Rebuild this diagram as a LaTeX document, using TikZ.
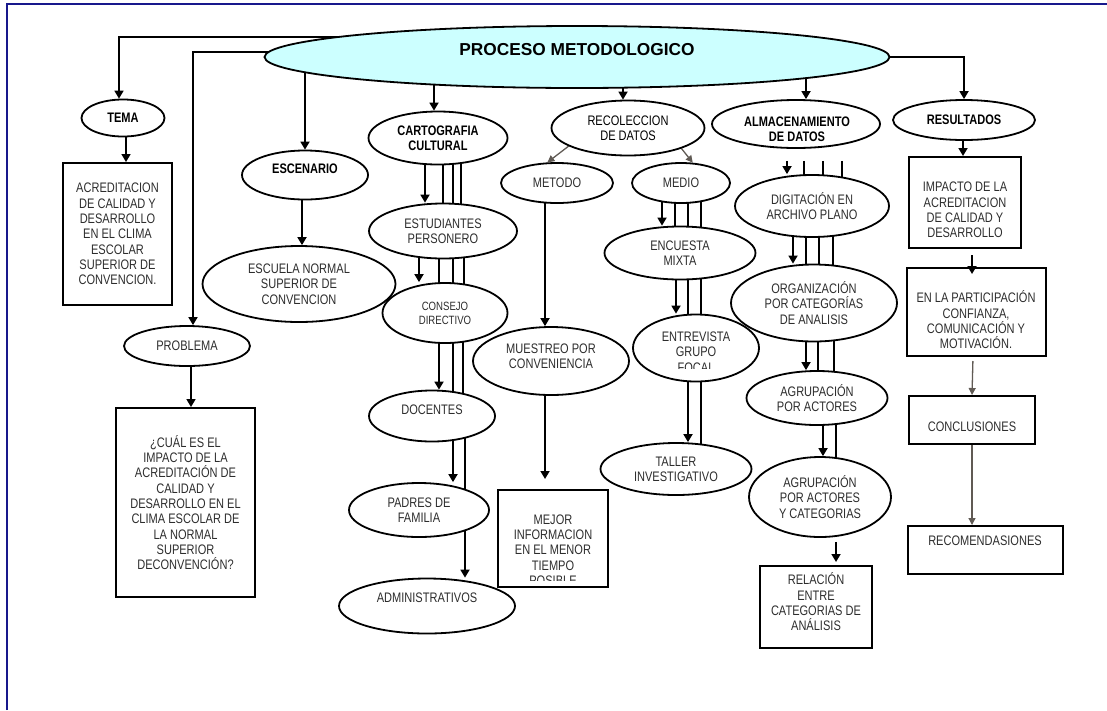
\documentclass[tikz,border=0pt]{standalone}
\usepackage{fontspec}
\setmainfont{Liberation Sans}[FakeStretch=0.8]
\newfontfamily\titlefont{Liberation Sans}
\usetikzlibrary{shapes.geometric,arrows.meta,backgrounds,positioning}
\definecolor{marcoazul}{RGB}{24,24,140}
\definecolor{cielo}{RGB}{204,255,255}
\definecolor{grisflecha}{RGB}{96,90,84}
\definecolor{tinta}{RGB}{45,45,45}
\newcommand{\cuerpo}{\fontsize{13.8}{15.3}\selectfont}

\begin{document}
\begin{tikzpicture}[x=1pt,y=-1pt,
  oval/.style={ellipse,draw,fill=white,line width=1.8pt,inner sep=0pt,align=center,font=\cuerpo,text=tinta},
  caja/.style={rectangle,draw,line width=2pt,inner sep=0pt,align=center,font=\cuerpo,text=tinta},
  jefe/.style={font=\cuerpo\bfseries,text=black},
  texto/.style={inner sep=0pt,align=center,font=\cuerpo,text=tinta},
  flecha/.style={line width=1.7pt,-{Triangle[length=8pt,width=9pt]}},
  linea/.style={line width=1.7pt},
  flechagris/.style={line width=1.3pt,grisflecha,-{Triangle[length=7pt,width=7pt]}}]
\useasboundingbox (0,0) rectangle (1107,710);

\node[oval,fill=cielo,minimum width=625,minimum height=62] (proc) at (577,57) {};
\node[texto,font=\titlefont\bfseries\fontsize{17.3}{20}\selectfont,text=black] (proctxt) at (577,50) {PROCESO METODOLOGICO};

\node[oval,jefe,minimum width=83,minimum height=37] (tema) at (123,118) {TEMA};
\node[caja,minimum width=109,minimum height=142] (temabox) at (117.5,234) {ACREDITACION\\DE CALIDAD Y\\DESARROLLO\\EN EL CLIMA\\ESCOLAR\\SUPERIOR DE\\CONVENCION.};
\node[oval,minimum width=126,minimum height=40] (problema) at (187,346) {PROBLEMA};
\node[caja,minimum width=139,minimum height=189] (probbox) at (185.5,502.5) {¿CUÁL ES EL\\IMPACTO DE LA\\ACREDITACIÓN DE\\CALIDAD Y\\DESARROLLO EN EL\\CLIMA ESCOLAR DE\\LA NORMAL\\SUPERIOR\\DECONVENCIÓN?};

\node[oval,minimum width=126,minimum height=49] (escen) at (305,175) {};
\node[texto,jefe] (escentxt) at (305,169) {ESCENARIO};
\node[oval,minimum width=193,minimum height=76] (escuela) at (299,284) {ESCUELA NORMAL\\SUPERIOR DE\\CONVENCION};

\node[oval,jefe,minimum width=139,minimum height=53] (carto) at (438,138) {CARTOGRAFIA\\CULTURAL};
\node[oval,minimum width=148,minimum height=55] (estud) at (443,231) {ESTUDIANTES\\PERSONERO};
\node[oval,font=\fontsize{12}{14}\selectfont,minimum width=125,minimum height=60] (consejo) at (445,313) {CONSEJO\\DIRECTIVO};
\node[oval,minimum width=126,minimum height=51] (docen) at (432,416) {};
\node[texto] (docentxt) at (432,410) {DOCENTES};
\node[oval,minimum width=140,minimum height=54] (padres) at (419,510) {PADRES DE\\FAMILIA};
\node[oval,minimum width=176,minimum height=55] (admin) at (427,606) {};
\node[texto] (admintxt) at (427,598) {ADMINISTRATIVOS};

\node[oval,text=black,minimum width=153,minimum height=55] (recol) at (628,128) {RECOLECCION\\DE DATOS};
\node[oval,minimum width=112,minimum height=40] (metodo) at (557,183) {METODO};
\node[oval,minimum width=98,minimum height=40] (medio) at (681,183) {MEDIO};
\node[oval,minimum width=156,minimum height=68] (muestreo) at (551,361) {};
\node[texto] (muestreotxt) at (551,356) {MUESTREO POR\\CONVENIENCIA};
\node[caja,minimum width=110,minimum height=97] (mejor) at (553,538.5) {};
\begin{scope}
\clip ([xshift=2pt,yshift=-2pt]mejor.north west) rectangle ([xshift=-2pt,yshift=8pt]mejor.south east);
\node[texto] (mejortxt) at (553,550) {MEJOR\\INFORMACION\\EN EL MENOR\\TIEMPO\\POSIBLE};
\end{scope}
\node[oval,minimum width=151,minimum height=53] (encuesta) at (680,253) {ENCUESTA\\MIXTA};
\node[oval,minimum width=126,minimum height=67] (entrev) at (696,348) {};
\begin{scope}
\clip (entrev.west |- entrev.north) rectangle ([yshift=14pt]entrev.east |- entrev.south);
\node[texto] (entrevtxt) at (696,352) {ENTREVISTA\\GRUPO\\FOCAL};
\end{scope}
\node[oval,minimum width=151,minimum height=52] (taller) at (676,469) {TALLER\\INVESTIGATIVO};

\node[oval,minimum width=168,minimum height=48] (almac) at (796,124) {};
\node[texto,jefe] (almactxt) at (797,129.5) {ALMACENAMIENTO\\DE DATOS};
\node[oval,minimum width=154,minimum height=62] (digit) at (812,206) {DIGITACIÓN EN\\ARCHIVO PLANO};
\node[oval,minimum width=166,minimum height=77] (organ) at (814,303) {ORGANIZACIÓN\\POR CATEGORÍAS\\DE ANALISIS};
\node[oval,minimum width=141,minimum height=54] (agrup) at (817,398) {AGRUPACIÓN\\POR ACTORES};
\node[oval,minimum width=142,minimum height=80] (agrupcat) at (820,497) {AGRUPACIÓN\\POR ACTORES\\Y CATEGORIAS};
\node[caja,minimum width=112,minimum height=82] (relac) at (816,607) {};
\node[texto] (relactxt) at (816,602) {RELACIÓN\\ENTRE\\CATEGORIAS DE\\ANÁLISIS};

\node[oval,jefe,minimum width=142,minimum height=40] (result) at (964,120) {RESULTADOS};
\node[caja,minimum width=112,minimum height=91] (impacto) at (965,202.5) {};
\node[texto] (impactotxt) at (965,210) {IMPACTO DE LA\\ACREDITACION\\DE CALIDAD Y\\DESARROLLO};
\node[caja,minimum width=139,minimum height=88] (enla) at (976.5,312) {};
\node[texto] (enlatxt) at (976,320) {EN LA PARTICIPACIÓN\\CONFIANZA,\\COMUNICACIÓN Y\\MOTIVACIÓN.};
\node[caja,minimum width=126,minimum height=48] (concl) at (972,420) {};
\node[texto] (concltxt) at (972,427) {CONCLUSIONES};
\node[caja,minimum width=155,minimum height=48] (recom) at (985.5,550) {};
\node[texto] (recomtxt) at (985,541) {RECOMENDASIONES};

\begin{scope}[on background layer]
\draw[marcoazul,line width=2pt] (7,710) -- (7,4) -- (1107,4);

\draw[flecha] (proc.center |- 0,37) -- (119,37) -- (119,0 |- tema.north);
\draw[flecha] (126,0 |- tema.south) -- (126,0 |- temabox.north);
\draw[flecha] (proc.center |- 0,52) -- (193,52) -- (193,0 |- problema.north);
\draw[flecha] (191,0 |- problema.south) -- (191,0 |- probbox.north);
\draw[flecha] (proc.center -| escen.north) -- (escen.north);
\draw[flecha] (302,0 |- escen.south) -- (302,0 |- escuela.north);
\draw[flecha] (proc.center -| 434,0) -- (434,0 |- carto.north);
\draw[flecha] (proc.center -| 623,0) -- (623,0 |- recol.north);
\draw[flecha] (proc.center -| 806,0) -- (806,0 |- almac.north);
\draw[flecha] (proc.center) -- (result.north |- proc.center) -- (result.north);

\draw[flecha] (425,0 |- carto.center) -- (425,0 |- estud.north);
\foreach \x in {443,453,461} \draw[linea] (\x,0 |- carto.center) -- (\x,0 |- estud.center);
\draw[flecha] (419,0 |- estud.center) -- (419,0 |- consejo.north);
\foreach \x in {439,453,464} \draw[linea] (\x,0 |- estud.center) -- (\x,0 |- consejo.center);
\draw[flecha] (439,0 |- consejo.center) -- (439,0 |- docen.north);
\foreach \x in {453,463} \draw[linea] (\x,0 |- consejo.center) -- (\x,0 |- docen.center);
\draw[flecha] (453,0 |- docen.center) -- (453,0 |- padres.north);
\draw[flecha] (465,0 |- docen.center) -- (465,0 |- admin.north);

\draw[flechagris] (recol.197) -- (metodo.115);
\draw[flechagris] (recol.339) -- (medio.60);
\draw[flecha] (545,0 |- metodo.center) -- (545,0 |- muestreo.north);
\draw[flecha,shorten >=10pt] (545,0 |- muestreo.center) -- (545,0 |- mejor.north);
\draw[flecha] (662,0 |- medio.center) -- (662,0 |- encuesta.north);
\foreach \x in {675,688,701} \draw[linea] (\x,0 |- medio.center) -- (\x,0 |- encuesta.center);
\draw[flecha] (676,0 |- encuesta.center) -- (676,0 |- entrev.north);
\foreach \x in {688,701} \draw[linea] (\x,0 |- encuesta.center) -- (\x,0 |- entrev.center);
\draw[flecha] (688,0 |- entrev.center) -- (688,0 |- taller.north);
\draw[linea] (701,0 |- entrev.center) -- (701,0 |- taller.center);

\draw[flecha,shorten <=12pt] (787,0 |- almac.south) -- (787,0 |- digit.north);
\foreach \x in {804,823,842} \draw[linea,shorten <=12pt] (\x,0 |- almac.south) -- (\x,0 |- digit.center);
\draw[flecha] (793,0 |- digit.center) -- (793,0 |- organ.north);
\foreach \x in {806,819,833} \draw[linea] (\x,0 |- digit.center) -- (\x,0 |- organ.center);
\draw[flecha] (806,0 |- organ.center) -- (806,0 |- agrup.north);
\foreach \x in {818,834} \draw[linea] (\x,0 |- organ.center) -- (\x,0 |- agrup.center);
\draw[flecha] (823,0 |- agrup.center) -- (823,0 |- agrupcat.north);
\draw[linea] (836,0 |- agrup.center) -- (836,0 |- agrupcat.center);
\draw[flecha,shorten <=4pt,shorten >=3pt] (836,0 |- agrupcat.south) -- (836,0 |- relac.north);

\draw[flecha] (963,0 |- result.center) -- (963,0 |- impacto.north);
\draw[flecha,shorten <=6pt,shorten >=-7pt] (972,0 |- impacto.south) -- (972,0 |- enla.north);
\draw[flechagris,shorten <=4pt] (973,0 |- enla.south) -- (972,0 |- concl.north);
\draw[flechagris] (972,0 |- concl.south) -- (972,0 |- recom.north);
\end{scope}
\end{tikzpicture}
\end{document}
